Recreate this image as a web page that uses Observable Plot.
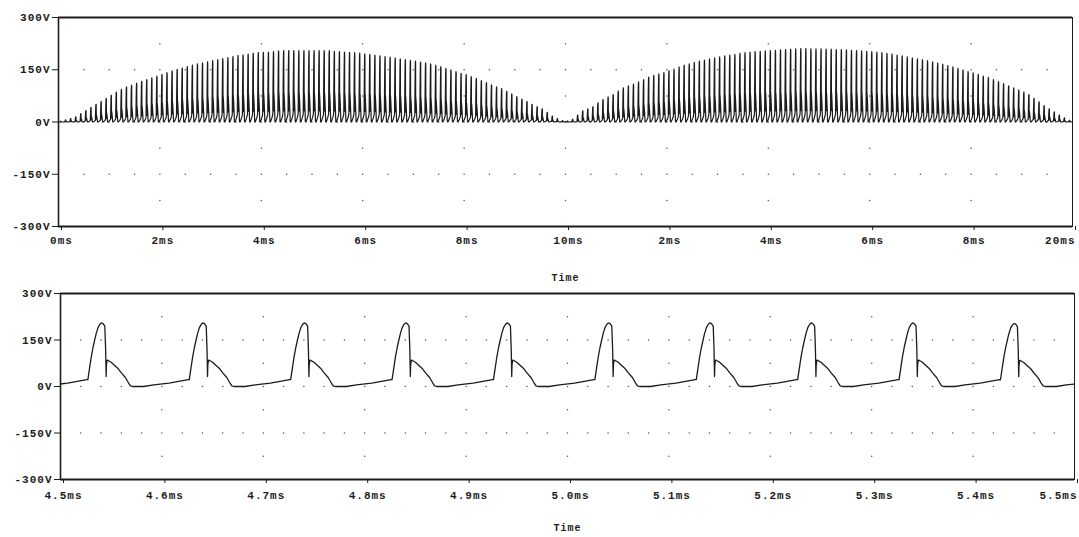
<!DOCTYPE html>
<html><head><meta charset="utf-8">
<script src="https://cdn.jsdelivr.net/npm/d3@7"></script>
<script src="https://cdn.jsdelivr.net/npm/@observablehq/plot@0.6"></script>
<style>
body{margin:0;background:#fff}
#chart svg{display:block;overflow:visible}
</style>
</head><body><div id="chart"></div>
<script>
// One switching pulse, read from the lower (zoomed) panel: time in µs from the start of the rise, volts
const pulseTime = [0, 1.7, 3.3, 5, 6.7, 8.3, 10, 11.7, 13.3, 15, 16.7, 17.5, 18, 18.3, 19, 20, 23, 27, 30, 33, 37, 40, 42, 44, 55, 65, 80, 99];
const pulseVolt = [22, 60, 95, 125, 150, 172, 190, 200, 205, 203, 195, 120, 32, 70, 85, 84, 78, 66, 57, 44, 29, 12, 2, 0, 0, 5, 11, 22];
const pulseRef = 205;      // peak of the pulse above
const pulsePeriod = 100;   // µs between pulses
const pulseDelay = 27;     // µs, first rise after 0 ms

// Peak voltage of each of the 200 pulses
const peaks = [
  2, 6, 10, 15, 24, 33, 42, 51, 59, 68,
  77, 86, 94, 101, 106, 112, 117, 122, 127, 132,
  137, 142, 147, 151, 155, 159, 163, 167, 170, 173,
  176, 179, 182, 185, 188, 191, 193, 195, 198, 199,
  200, 201, 202, 204, 205, 205, 205, 205, 205, 205,
  205, 205, 205, 205, 203, 202, 201, 200, 199, 198,
  196, 194, 192, 190, 188, 186, 184, 181, 179, 177,
  175, 172, 170, 167, 163, 159, 154, 150, 145, 140,
  136, 130, 125, 119, 113, 107, 101, 96, 88, 81,
  73, 66, 59, 51, 44, 38, 28, 17, 10, 4,
  3, 8, 20, 32, 38, 44, 55, 65, 72, 79,
  89, 98, 104, 109, 115, 122, 129, 134, 138, 142,
  147, 152, 158, 163, 167, 171, 175, 178, 181, 184,
  187, 190, 192, 194, 197, 199, 201, 202, 203, 204,
  205, 206, 207, 208, 209, 210, 211, 211, 210, 210,
  210, 209, 209, 208, 208, 207, 206, 205, 204, 203,
  202, 201, 199, 197, 195, 192, 190, 187, 184, 181,
  179, 176, 173, 169, 166, 162, 158, 154, 150, 145,
  141, 137, 132, 128, 122, 116, 110, 104, 98, 92,
  86, 79, 68, 58, 47, 38, 29, 20, 12, 5
];

const topTicks = [0, 2, 4, 6, 8, 10, 12, 14, 16, 18, 20];
const topTickLabels = ["0ms", "2ms", "4ms", "6ms", "8ms", "10ms", "2ms", "4ms", "6ms", "8ms", "20ms"];
const bottomTicks = [4.5, 4.6, 4.7, 4.8, 4.9, 5.0, 5.1, 5.2, 5.3, 5.4, 5.5];
const bottomTickLabels = ["4.5ms", "4.6ms", "4.7ms", "4.8ms", "4.9ms", "5.0ms", "5.1ms", "5.2ms", "5.3ms", "5.4ms", "5.5ms"];
const yTicks = [-300, -150, 0, 150, 300];
const yTickLabels = ["-300V", "-150V", "0V", "150V", "300V"];
const xLabel = "Time";

// Build the waveform table from the pulse shape and the per-pulse peaks
const wave = [{t: 0, v: 0}];
peaks.forEach((pk, n) => {
  pulseTime.forEach((pt, i) => {
    wave.push({t: (n * pulsePeriod + pulseDelay + pt) / 1000, v: pulseVolt[i] * pk / pulseRef});
  });
});
wave.push({t: 20, v: 2});

const ink = "#1c1c1c";
const font = {fontFamily: "'Liberation Mono', 'DejaVu Sans Mono', monospace", fontWeight: "bold", fontSize: "11px", letterSpacing: "1px", color: ink, overflow: "visible"};

function gridDots(minorX, majorX, majorY, minorY) {
  const g = [];
  minorX.forEach(x => majorY.forEach(y => g.push({x, y})));
  majorX.forEach(x => minorY.forEach(y => g.push({x, y})));
  return g;
}

function panel({data, domain, ticks, labels, height, marginTop, marginBottom, marginLeft, marginRight, grid, padTick, labelDy, sw}) {
  const fmt = d => labels[ticks.indexOf(d)];
  return Plot.plot({
    width: 1079, height, marginTop, marginBottom, marginLeft, marginRight,
    style: font,
    x: {domain, axis: null},
    y: {domain: [-300, 300], axis: null},
    marks: [
      Plot.dot(grid, {x: "x", y: "y", r: 0.75, fill: "#555"}),
      Plot.line(data, {x: "t", y: "v", stroke: ink, strokeWidth: sw, clip: true}),
      Plot.frame({stroke: ink, strokeWidth: 1}),
      Plot.ruleY([300, -300], {stroke: ink, strokeWidth: 2}),
      Plot.ruleX([domain[0]], {stroke: ink, strokeWidth: 1.6}),
      Plot.axisX({ticks: ticks.slice(0, -1), tickFormat: fmt, tickSize: 4, tickPadding: padTick, stroke: ink, fill: ink, label: null, dx: 3}),
      Plot.axisX({ticks: ticks.slice(-1), tickFormat: fmt, tickSize: 4, tickPadding: padTick, stroke: ink, fill: ink, label: null, textAnchor: "end", dx: 3}),
      Plot.axisY({ticks: yTicks, tickFormat: d => yTickLabels[yTicks.indexOf(d)], tickSize: 6, tickPadding: 2, stroke: ink, fill: ink, label: null}),
      Plot.text([xLabel], {frameAnchor: "bottom", dy: labelDy, fontSize: 10, fill: ink})
    ]
  });
}

const topGrid = gridDots(d3.range(0.5, 20, 0.5), topTicks.slice(1, -1), [-150, 0, 150], [-225, -75, 75, 225]);
const botGrid = gridDots(d3.range(4.52, 5.49, 0.02), bottomTicks.slice(1, -1), [-150, 0, 150], [-225, -75, 75, 225]);

const topPlot = panel({
  data: wave, domain: [0, 20], ticks: topTicks, labels: topTickLabels,
  height: 290, marginTop: 17, marginBottom: 64, marginLeft: 58, marginRight: 7,
  grid: topGrid, padTick: 6, labelDy: 54, sw: 1.2
});
const botPlot = panel({
  data: wave.filter(d => d.t >= 4.4 && d.t <= 5.6), domain: [4.5, 5.5], ticks: bottomTicks, labels: bottomTickLabels,
  height: 247, marginTop: 3, marginBottom: 58, marginLeft: 60, marginRight: 5,
  grid: botGrid, padTick: 8, labelDy: 51, sw: 1.3
});
document.getElementById("chart").append(topPlot, botPlot);
</script>
</body></html>
